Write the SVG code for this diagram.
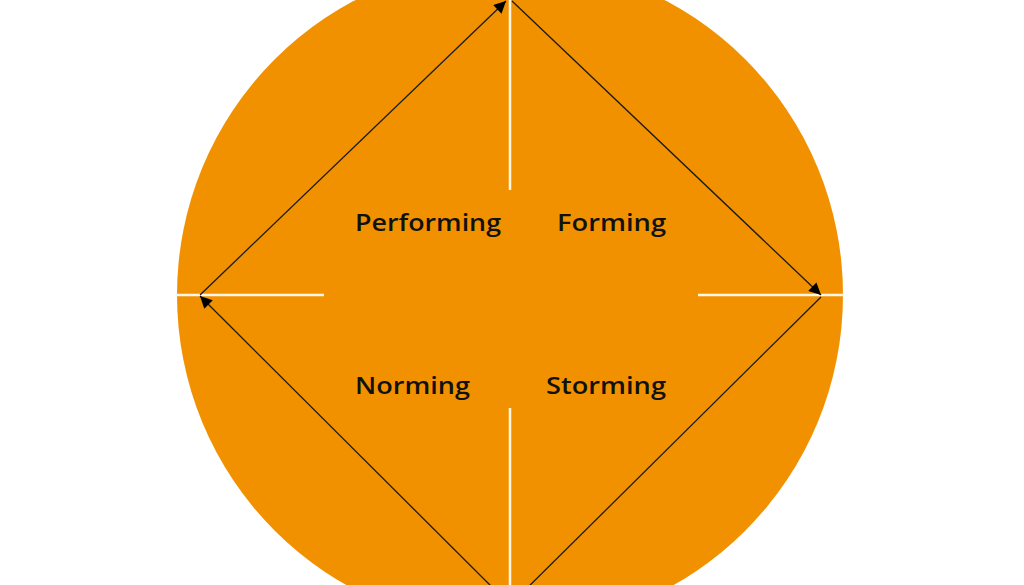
<svg xmlns="http://www.w3.org/2000/svg" width="1024" height="585" viewBox="0 0 1024 585">
<style>
.lbl{font-family:"Open Sans","DejaVu Sans",sans-serif;font-size:23px;font-weight:600;fill:#111}
.axis{stroke:#FFF6E6;stroke-width:2.5;fill:none}
.edge{stroke:#1a1a1a;stroke-width:1.3;fill:none}
</style>
<defs>
<marker id="ah" viewBox="0 0 10 10" refX="10" refY="5" markerWidth="13" markerHeight="12" markerUnits="userSpaceOnUse" orient="auto">
<path d="M0,0 L10,5 L0,10 z" fill="#000"/>
</marker>
</defs>
<rect width="1024" height="585" fill="#fff"/>
<g id="circle">
<circle cx="510" cy="295" r="333" fill="#F29100"/>
</g>
<g id="axes">
<line class="axis" x1="510" y1="0" x2="510" y2="190"/>
<line class="axis" x1="510" y1="408" x2="510" y2="585"/>
<line class="axis" x1="177" y1="295" x2="324" y2="295"/>
<line class="axis" x1="698" y1="295" x2="843" y2="295"/>
</g>
<g id="connectors">
<line class="edge" x1="200" y1="295" x2="506" y2="1" marker-end="url(#ah)"/>
<line class="edge" x1="512" y1="1" x2="821" y2="295" marker-end="url(#ah)"/>
<line class="edge" x1="821" y1="297" x2="512" y2="603"/>
<line class="edge" x1="508" y1="603" x2="200" y2="296" marker-end="url(#ah)"/>
</g>
<g id="performing"><text class="lbl" x="355" y="231" textLength="146" lengthAdjust="spacingAndGlyphs">Performing</text></g>
<g id="forming"><text class="lbl" x="557" y="231" textLength="109" lengthAdjust="spacingAndGlyphs">Forming</text></g>
<g id="norming"><text class="lbl" x="355" y="394" textLength="115" lengthAdjust="spacingAndGlyphs">Norming</text></g>
<g id="storming"><text class="lbl" x="546" y="394" textLength="120" lengthAdjust="spacingAndGlyphs">Storming</text></g>
</svg>
